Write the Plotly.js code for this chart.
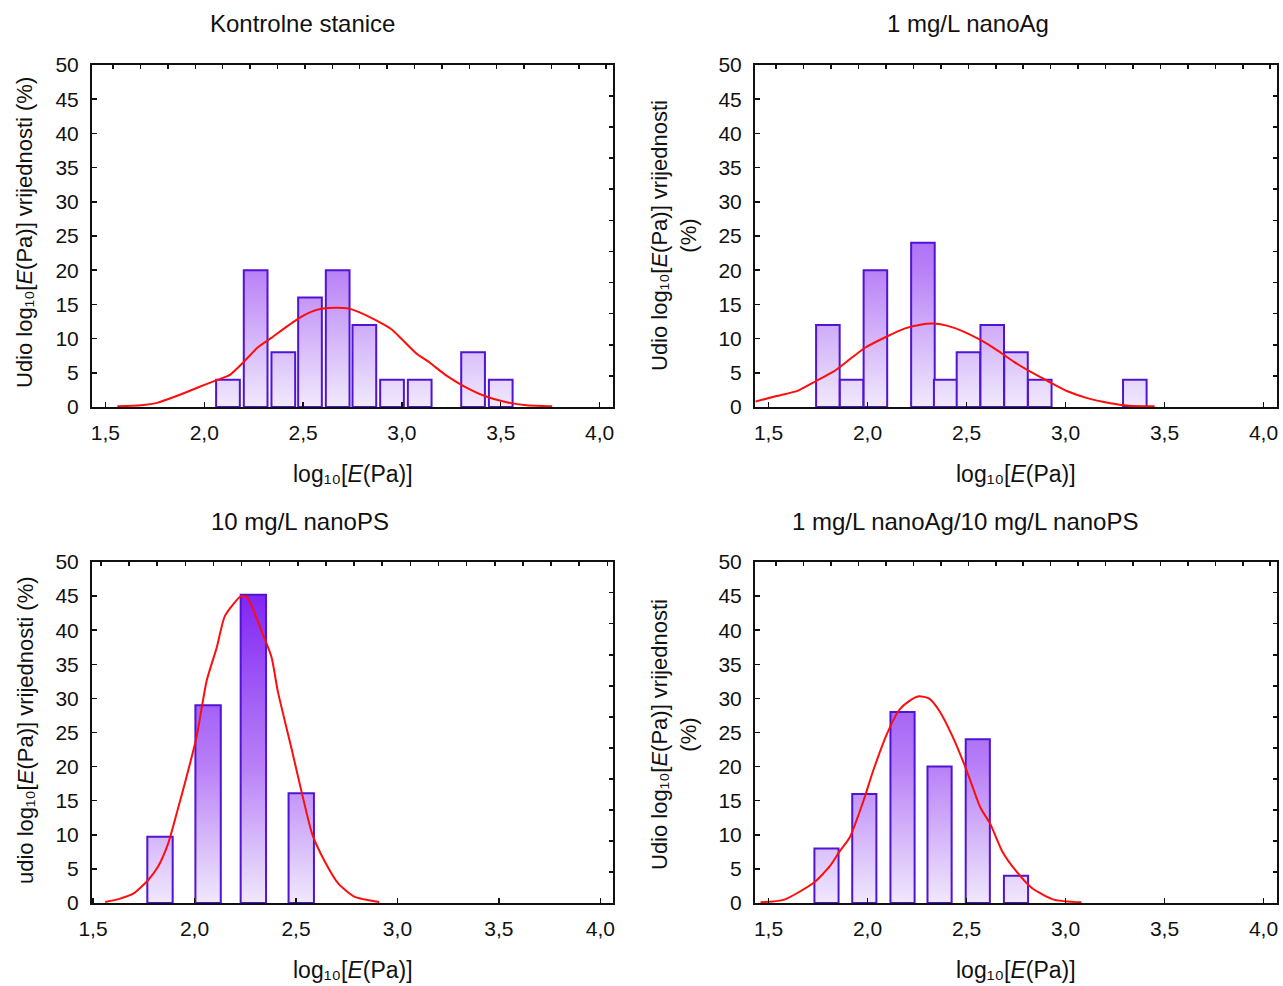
<!DOCTYPE html>
<html>
<head>
<meta charset="utf-8">
<script src="https://cdn.plot.ly/plotly-3.0.1.min.js"></script>
<style>html,body{margin:0;padding:0;background:#fff;}#chart{width:1283px;height:986px;}</style>
</head>
<body>
<div id="chart"></div>
<script>
// ---------- data ----------
var panelTitles = ["Kontrolne stanice", "1 mg/L nanoAg", "10 mg/L nanoPS", "1 mg/L nanoAg/10 mg/L nanoPS"];
var xTitle = "log\u2081\u2080[<i>E</i>(Pa)]";
var yTitles = [
  "Udio log\u2081\u2080[<i>E</i>(Pa)] vrijednosti (%)",
  "Udio log\u2081\u2080[<i>E</i>(Pa)] vrijednosti<br>(%)",
  "udio log\u2081\u2080[<i>E</i>(Pa)] vrijednosti (%)",
  "Udio log\u2081\u2080[<i>E</i>(Pa)] vrijednosti<br>(%)"
];
var xTickVals = [1.5, 2.0, 2.5, 3.0, 3.5, 4.0];
var xTickText = ["1,5", "2,0", "2,5", "3,0", "3,5", "4,0"];
var yTickVals = [0, 5, 10, 15, 20, 25, 30, 35, 40, 45, 50];

// histogram bars (bin centre, percent)
var p1BarX = [2.12, 2.26, 2.40, 2.535, 2.675, 2.81, 2.95, 3.09, 3.36, 3.50];
var p1BarY = [4, 20, 8, 16, 20, 12, 4, 4, 8, 4];
var p2BarX = [1.80, 1.92, 2.04, 2.28, 2.395, 2.51, 2.63, 2.75, 2.87, 3.35];
var p2BarY = [12, 4, 20, 24, 4, 8, 12, 8, 4, 4];
var p3BarX = [1.83, 2.067, 2.29, 2.526];
var p3BarY = [9.7, 29.0, 45.2, 16.1];
var p4BarX = [1.793, 1.984, 2.177, 2.364, 2.557, 2.75];
var p4BarY = [8, 16, 28, 20, 24, 4];

// fitted normal curves
var p1CurveX = [1.56,1.68,1.76,1.86,1.98,2.07,2.13,2.20,2.27,2.34,2.41,2.48,2.54,2.60,2.67,2.73,2.78,2.86,2.95,3.00,3.07,3.14,3.22,3.31,3.42,3.53,3.63,3.76];
var p1CurveY = [0.1,0.25,0.6,1.6,3.0,4.0,4.7,6.6,8.7,10.1,11.6,13.0,13.9,14.4,14.5,14.4,13.9,12.8,11.3,9.9,7.9,6.5,4.7,3.1,1.6,0.7,0.25,0.1];
var p2CurveX = [1.435,1.54,1.65,1.74,1.83,1.92,1.99,2.09,2.19,2.26,2.33,2.40,2.48,2.57,2.65,2.74,2.82,2.91,3.01,3.11,3.22,3.32,3.45];
var p2CurveY = [0.8,1.6,2.4,3.8,5.2,7.2,8.7,10.2,11.5,12.0,12.2,11.9,11.1,9.8,8.4,6.6,5.2,3.8,2.3,1.3,0.6,0.2,0.1];
var p3CurveX = [1.56,1.63,1.70,1.77,1.82,1.87,1.92,1.96,2.01,2.06,2.11,2.15,2.23,2.26,2.33,2.38,2.41,2.48,2.53,2.58,2.64,2.71,2.79,2.91];
var p3CurveY = [0.15,0.6,1.4,3.3,5.3,8.7,14.0,18.4,24.3,32.6,37.5,42.1,45.0,44.8,39.9,36.0,31.1,22.4,16.0,10.1,6.2,2.8,0.9,0.15];
var p4CurveX = [1.46,1.58,1.73,1.81,1.86,1.91,1.98,2.03,2.10,2.16,2.21,2.26,2.31,2.36,2.43,2.50,2.57,2.62,2.68,2.75,2.83,2.94,3.08];
var p4CurveY = [0.1,0.5,3.0,5.4,7.6,9.6,15.0,19.5,24.9,28.3,29.6,30.3,30.0,28.3,24.4,19.5,14.0,11.6,7.6,4.7,2.2,0.5,0.1];

// ---------- layout helpers ----------
var W = 1283, H = 986;
function px(x){ return x / W; }
function py(y){ return 1 - y / H; }
var FONT = "Arial, 'Liberation Sans', sans-serif";
var INK = "#111111";

var barX = [p1BarX, p2BarX, p3BarX, p4BarX];
var barY = [p1BarY, p2BarY, p3BarY, p4BarY];
var barW = [0.12, 0.119, 0.125, 0.122];
var curveX = [p1CurveX, p2CurveX, p3CurveX, p4CurveX];
var curveY = [p1CurveY, p2CurveY, p3CurveY, p4CurveY];

// frame pixel boxes [left, right, top, bottom]
var boxes = [[92, 613, 65, 407], [755, 1277, 65, 407], [92, 613, 562, 903], [755, 1277, 562, 903]];
var xRanges = [[1.432, 4.068], [1.432, 4.068], [1.495, 4.062], [1.432, 4.068]];

var data = [];
var layout = {
  width: W, height: H, autosize: false,
  margin: {l: 0, r: 0, t: 0, b: 0},
  paper_bgcolor: "#ffffff", plot_bgcolor: "#ffffff",
  showlegend: false, bargap: 0,
  font: {family: FONT, color: INK, size: 21},
  annotations: []
};

for (var i = 0; i < 4; i++) {
  var n = i + 1, m = i + 5;
  var xs = n === 1 ? "" : String(n);
  var b = boxes[i];
  var xd = [px(b[0]), px(b[1])];
  var yd = [py(b[3]), py(b[2])];

  data.push({
    type: "bar", x: barX[i], y: barY[i], width: barW[i],
    xaxis: "x" + xs, yaxis: "y" + xs,
    marker: {color: "#c9a8f8", line: {color: "#4f14d4", width: 2}},
    hoverinfo: "skip"
  });
  data.push({
    type: "scatter", mode: "lines", x: curveX[i], y: curveY[i],
    xaxis: "x" + m, yaxis: "y" + m,
    line: {color: "#ff0d0d", width: 2, shape: "spline", smoothing: 0.6},
    hoverinfo: "skip"
  });

  layout["xaxis" + xs] = {
    domain: xd, anchor: "y" + xs, range: xRanges[i],
    tickmode: "array", tickvals: xTickVals, ticktext: xTickText,
    ticks: "inside", ticklen: 5, tickwidth: 1.5, tickcolor: INK,
    showline: true, linecolor: INK, linewidth: 2, mirror: true,
    showgrid: false, zeroline: false, ticklabelstandoff: 6,
    tickfont: {family: FONT, size: 21, color: INK}
  };
  layout["yaxis" + xs] = {
    domain: yd, anchor: "x" + xs, range: [0, 50],
    tickmode: "array", tickvals: yTickVals,
    ticks: "inside", ticklen: 5, tickwidth: 1.5, tickcolor: INK,
    showline: true, linecolor: INK, linewidth: 2, mirror: true,
    showgrid: false, zeroline: false, ticklabelstandoff: 7,
    tickfont: {family: FONT, size: 21, color: INK}
  };
  layout["xaxis" + m] = {
    overlaying: "x" + xs, side: "top", anchor: "y" + xs, range: xRanges[i],
    tick0: 1.539, dtick: 0.1386, ticks: "inside", ticklen: 4, tickwidth: 1.5, tickcolor: INK,
    showticklabels: false, showline: false, showgrid: false, zeroline: false
  };
  layout["yaxis" + m] = {
    overlaying: "y" + xs, side: "right", anchor: "x" + xs, range: [0, 50],
    tick0: 0, dtick: 4.55, ticks: "inside", ticklen: 4, tickwidth: 1.5, tickcolor: INK,
    showticklabels: false, showline: false, showgrid: false, zeroline: false
  };
}

// titles, axis titles
var titlePos = [[302, 24], [968, 24], [300, 521], [965, 521]];
var xTitleY = [474, 474, 970, 970];
var yTitlePos = [[25, 233], [674, 236], [25, 730], [674, 735]];
for (var j = 0; j < 4; j++) {
  var bb = boxes[j];
  layout.annotations.push({
    text: panelTitles[j], xref: "paper", yref: "paper",
    x: px(titlePos[j][0]), y: py(titlePos[j][1]), xanchor: "center", yanchor: "middle",
    showarrow: false, font: {family: FONT, size: 24, color: INK}
  });
  layout.annotations.push({
    text: xTitle, xref: "paper", yref: "paper",
    x: px((bb[0] + bb[1]) / 2), y: py(xTitleY[j]), xanchor: "center", yanchor: "middle",
    showarrow: false, font: {family: FONT, size: 23, color: INK}
  });
  layout.annotations.push({
    text: yTitles[j], xref: "paper", yref: "paper", textangle: -90,
    x: px(yTitlePos[j][0]), y: py(yTitlePos[j][1]), xanchor: "center", yanchor: "middle",
    showarrow: false, font: {family: FONT, size: 22, color: INK}
  });
}

var gd = document.getElementById("chart");
Plotly.newPlot(gd, data, layout, {staticPlot: true, displayModeBar: false}).then(function () {
  // remove empty text placeholders
  gd.querySelectorAll("text").forEach(function (t) {
    if (!t.textContent || !t.textContent.replace(/[\s\u200b]/g, "")) { t.parentNode.removeChild(t); }
  });
  // vertical gradient fill for bars (absolute in y: 0 = light, 50 = deep violet)
  var NS = "http://www.w3.org/2000/svg";
  var svg = gd.querySelector("svg.main-svg");
  var defs = svg.querySelector("defs") || svg.insertBefore(document.createElementNS(NS, "defs"), svg.firstChild);
  var len = gd._fullLayout.yaxis._length;
  var lg = document.createElementNS(NS, "linearGradient");
  lg.setAttribute("id", "barGrad");
  lg.setAttribute("gradientUnits", "userSpaceOnUse");
  lg.setAttribute("x1", "0"); lg.setAttribute("y1", "0");
  lg.setAttribute("x2", "0"); lg.setAttribute("y2", String(len));
  [["0", "#6a0cf0"], ["0.1", "#8226f4"], ["0.42", "#a462f6"], ["0.6", "#b980f7"],
   ["0.68", "#c496f8"], ["0.84", "#dac0fa"], ["1", "#f1e9fd"]].forEach(function (s) {
    var st = document.createElementNS(NS, "stop");
    st.setAttribute("offset", s[0]);
    st.setAttribute("stop-color", s[1]);
    lg.appendChild(st);
  });
  defs.appendChild(lg);
  gd.querySelectorAll(".barlayer .point path").forEach(function (p) {
    p.style.fill = "url(#barGrad)";
  });
});
</script>
</body>
</html>
